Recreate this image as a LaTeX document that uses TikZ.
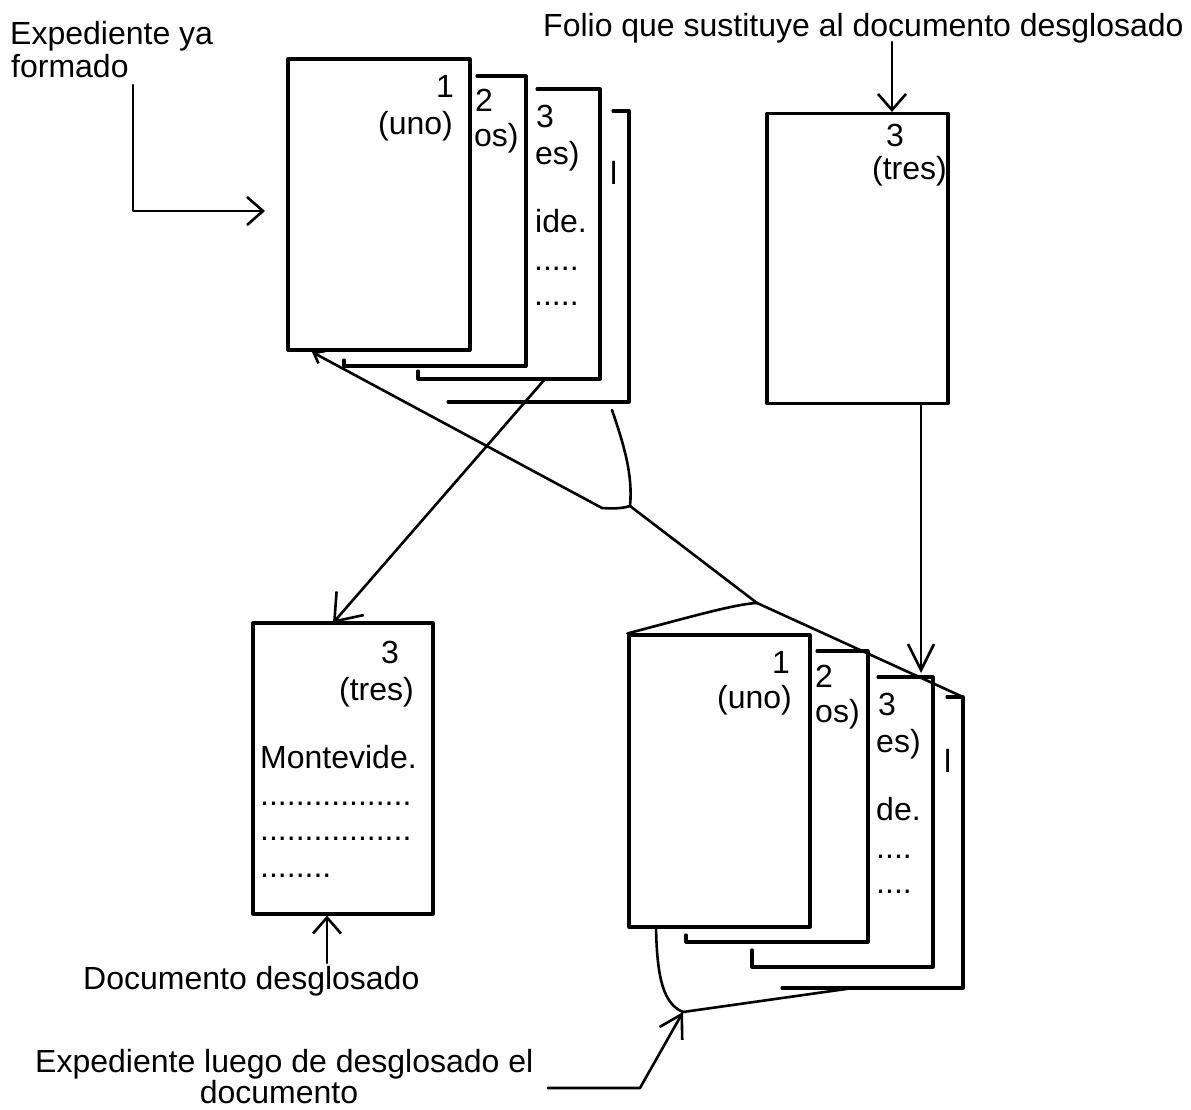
\documentclass[tikz,border=0pt]{standalone}
\usepackage{fontspec}
\setmainfont{Liberation Sans}
\usetikzlibrary{arrows.meta}
\begin{document}
\begin{tikzpicture}[x=1pt,y=-1pt,
  line cap=round, line join=round,
  page/.style={draw, fill=white, line width=3.1pt, inner sep=0pt},
  back/.style={draw, line width=3.1pt},
  conn/.style={draw, line width=2.6pt},
  barb/.style={-{Straight Barb[length=16pt,width=28pt]}},
  bigbarb/.style={-{Straight Barb[length=24pt,width=36pt]}},
  longbarb/.style={-{Straight Barb[length=26pt,width=26pt]}},
  txt/.style={inner sep=0pt, font=\fontsize{32}{35}\selectfont}]
\useasboundingbox (0,0) rectangle (1191,1110);
\fill[white] (0,0) rectangle (1191,1110);

% ---------- top stack (Expediente ya formado) ----------
\draw[back] (448,402) -- (629,402) -- (629,111) -- (613,111);
\draw[back] (418,371) -- (418,379) -- (600,379) -- (600,89) -- (537,89);
\draw[back] (344,360) -- (344,366) -- (526,366) -- (526,76) -- (477,76);
\node[page, minimum width=182pt, minimum height=291pt] (p1) at (379,204.5) {};
\node[txt, anchor=base east] (t1a) at (454,98) {1};
\node[txt, anchor=base east] (t1b) at (453,135) {(uno)};
\node[txt, anchor=base west] (t2a) at (475,112) {2};
\node[txt, anchor=base west] (t2b) at (474,147) {os)};
\node[txt, anchor=base west] (t3a) at (536,128) {3};
\node[txt, anchor=base west] (t3b) at (535,165) {es)};
\node[txt, anchor=base west] (t4a) at (610,185) {l};
\node[txt, anchor=base west] (t3c) at (535,233) {ide.};
\node[txt, anchor=base west] (t3d) at (534,270) {.....};
\node[txt, anchor=base west] (t3e) at (534,305) {.....};

% ---------- top right page (folio) ----------
\node[page, minimum width=181pt, minimum height=290pt] (pR) at (857.5,258.5) {};
\node[txt, anchor=base] (tRa) at (895,147) {3};
\node[txt, anchor=base east] (tRb) at (947,180) {(tres)};

% ---------- bottom left page (documento desglosado) ----------
\node[page, minimum width=180pt, minimum height=291pt] (pB) at (343,768.5) {};
\node[txt, anchor=base] (tBa) at (390,663) {3};
\node[txt, anchor=base east] (tBb) at (414,700) {(tres)};
\node[txt, anchor=base west] (tBc) at (260,768) {Montevide.};
\node[txt, anchor=base west] (tBd) at (260,805) {.................};
\node[txt, anchor=base west] (tBe) at (260,840) {.................};
\node[txt, anchor=base west] (tBf) at (260,877) {........};

% ---------- bottom right stack (Expediente luego) ----------
\draw[back] (782,988) -- (963,988) -- (963,697) -- (947,697);
\draw[back] (752,950) -- (752,967) -- (933,967) -- (933,677) -- (878,677);
\draw[back] (686,935) -- (686,942) -- (868,942) -- (868,651) -- (817,651);
\node[page, minimum width=181pt, minimum height=292pt] (p1b) at (719.5,781) {};
\node[txt, anchor=base east] (u1a) at (790,673) {1};
\node[txt, anchor=base east] (u1b) at (792,708) {(uno)};
\node[txt, anchor=base west] (u2a) at (815,687) {2};
\node[txt, anchor=base west] (u2b) at (815,722) {os)};
\node[txt, anchor=base west] (u3a) at (878,715) {3};
\node[txt, anchor=base west] (u3b) at (876,752) {es)};
\node[txt, anchor=base west] (u4a) at (944,772) {l};
\node[txt, anchor=base west] (u3c) at (876,820) {de.};
\node[txt, anchor=base west] (u3d) at (876,858) {....};
\node[txt, anchor=base west] (u3e) at (876,893) {....};

% ---------- labels ----------
\node[txt, anchor=base west] (lab1a) at (10,45) {Expediente ya};
\node[txt, anchor=base west] (lab1b) at (11,78) {formado};
\node[txt, anchor=base west] (lab2) at (543,37) {Folio que sustituye al documento desglosado};
\node[txt, anchor=base west] (lab3) at (83,989) {Documento desglosado};
\node[txt, anchor=base west] (lab4a) at (35,1072) {Expediente luego de desglosado el};
\node[txt, anchor=base] (lab4b) at (279,1103) {documento};

% ---------- coordinates ----------
\coordinate (a1s) at (133,85);
\coordinate (a1e) at (265,211);
\coordinate (f1) at (892,42);
\coordinate (v2) at (921,673);
\coordinate (x1) at (545,379);
\coordinate (x2) at (333,623);
\coordinate (d1) at (327,963);
\coordinate (t1) at (312,352);
\coordinate (b4) at (612,410);
\coordinate (J1) at (630,506);
\coordinate (J2) at (757,603);
\coordinate (q4) at (963,697);
\coordinate (b1) at (656,927);
\coordinate (J3) at (683,1012);
\coordinate (r4) at (853,988);
\coordinate (e1) at (548,1088);
\coordinate (e2) at (640,1088);

% ---------- connectors ----------
\draw[conn, barb] (a1s) |- (a1e);
\draw[conn, barb] (f1) -- (f1 |- pR.north);
\draw[conn, longbarb] (pR.south -| v2) -- (v2);
\draw[conn, bigbarb] (x1) -- (x2);
\draw[conn, barb] (d1) -- (d1 |- pB.south);
\draw[conn, {Straight Barb[length=9pt,width=14pt]}-] (t1) -- (602,508) .. controls (615,509) and (624,508) .. (J1);
\draw[conn] (b4) .. controls (624,445) and (633,475) .. (J1);
\draw[conn] (J1) -- (J2);
\draw[conn] (p1b.north west) .. controls (690,617) and (735,604) .. (J2);
\draw[conn] (J2) -- (q4);
\draw[conn] (b1) .. controls (657,980) and (664,1004) .. (J3);
\draw[conn] (J3) -- (r4);
\draw[conn, -{Straight Barb[length=22pt,width=26pt]}] (e1) -- (e2) -- (J3);
\end{tikzpicture}
\end{document}
